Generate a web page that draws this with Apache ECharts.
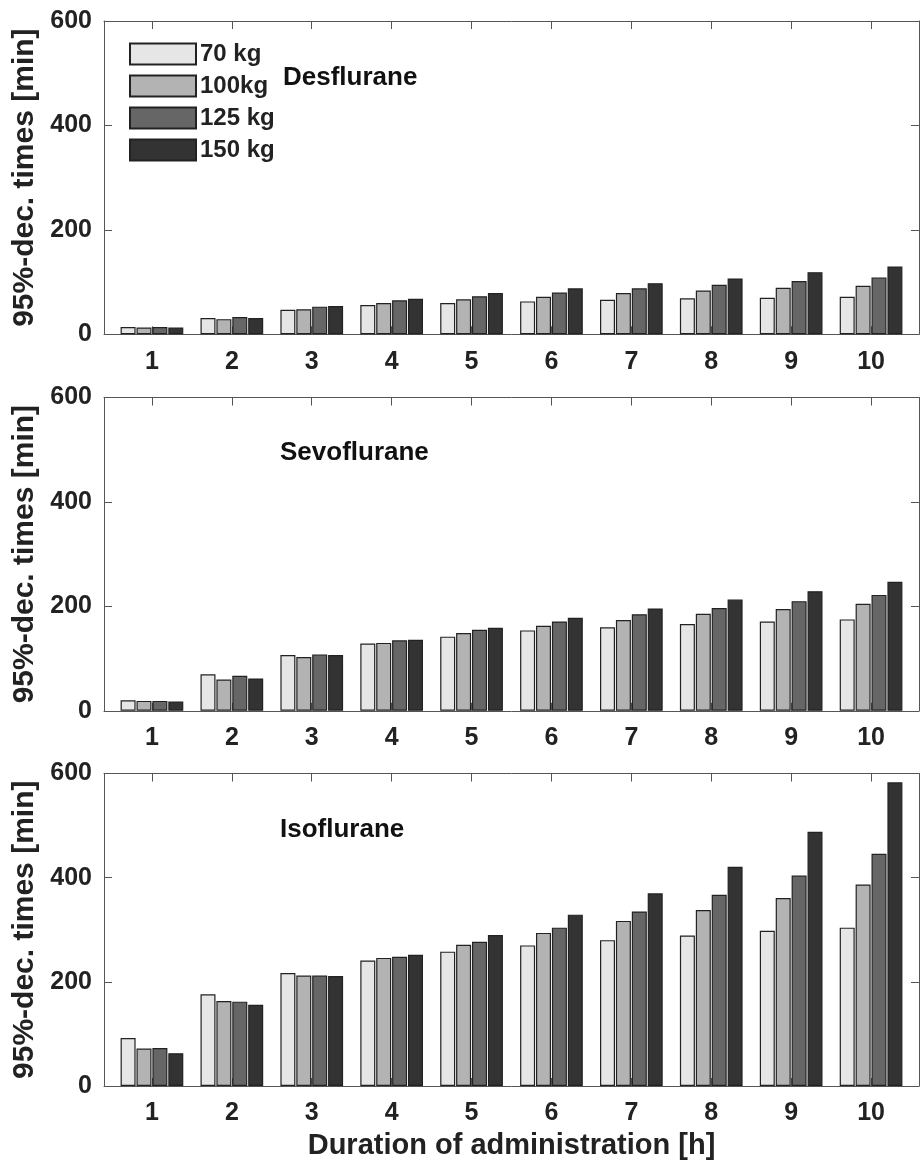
<!DOCTYPE html>
<html>
<head>
<meta charset="utf-8">
<script src="https://cdn.jsdelivr.net/npm/echarts@6/dist/echarts.min.js"></script>
<style>
html,body{margin:0;padding:0;background:#fff;}
#chart{width:921px;height:1161px;}
</style>
</head>
<body>
<div id="chart"></div>
<script>
// Data
const durations = [1,2,3,4,5,6,7,8,9,10];
const weights = ['70 kg','100kg','125 kg','150 kg'];
const panelNames = ['Desflurane','Sevoflurane','Isoflurane'];
const xTicks = [1,2,3,4,5,6,7,8,9,10];
const yTicks = [0,200,400,600];

// Desflurane
const des70  = [14,31,47,56,60,63,66,69,70,72];
const des100 = [13,29,48,60,67,72,79,84,89,93];
const des125 = [14,33,53,65,73,80,88,95,102,109];
const des150 = [13,31,54,68,79,88,98,107,119,130];
// Sevoflurane
const sev70  = [20,70,107,129,142,154,160,166,171,175];
const sev100 = [19,60,103,130,149,163,174,186,195,205];
const sev125 = [19,67,108,135,155,171,185,197,210,222];
const sev150 = [18,62,107,136,159,178,196,213,229,247];
// Isoflurane
const iso70  = [92,176,217,241,258,270,280,289,298,304];
const iso100 = [72,163,212,246,271,294,317,338,361,387];
const iso125 = [73,162,212,248,277,304,335,367,404,446];
const iso150 = [63,156,211,252,290,329,370,421,488,583];

const panelData = [
  [des70, des100, des125, des150],
  [sev70, sev100, sev125, sev150],
  [iso70, iso100, iso125, iso150]
];
const colors = ['#e6e6e6','#b3b3b3','#666666','#333333'];

const gridTops = [21, 397.5, 773.5];
const gridH = 313.3;
const axisColor = '#555';
const textColor = '#222';
const fontFam = '"Liberation Sans", Arial, sans-serif';

const grids = [], xAxes = [], yAxes = [], series = [], titles = [];
gridTops.forEach((t, p) => {
  grids.push({left:104, right:2, top:t, height:gridH, containLabel:false});
  xAxes.push({
    type:'value', gridIndex:p, min:0.4, max:10.6, position:'bottom',
    axisLine:{show:true, onZero:false, lineStyle:{color:axisColor, width:1}},
    axisTick:{show:true, inside:true, length:8, customValues:xTicks, lineStyle:{color:axisColor}},
    axisLabel:{show:true, customValues:xTicks, margin:15, fontSize:25, fontWeight:'bold', color:textColor, fontFamily:fontFam},
    splitLine:{show:false},
    name: p === 2 ? 'Duration of administration [h]' : '',
    nameLocation:'middle', nameGap:45,
    nameTextStyle:{fontSize:29, fontWeight:'bold', color:textColor, fontFamily:fontFam}
  });
  xAxes.push({
    type:'value', gridIndex:p, min:0.4, max:10.6, position:'top',
    axisLine:{show:true, onZero:false, lineStyle:{color:axisColor, width:1}},
    axisTick:{show:true, inside:true, length:8, customValues:xTicks, lineStyle:{color:axisColor}},
    axisLabel:{show:false},
    splitLine:{show:false}
  });
  yAxes.push({
    type:'value', gridIndex:p, min:0, max:600, interval:200, position:'left',
    axisLine:{show:true, lineStyle:{color:axisColor, width:1}},
    axisTick:{show:true, inside:true, length:8, lineStyle:{color:axisColor}},
    axisLabel:{show:true, margin:12, fontSize:25, fontWeight:'bold', color:textColor, fontFamily:fontFam},
    splitLine:{show:false},
    name:'95%-dec. times [min]', nameLocation:'middle', nameGap:61, nameRotate:90,
    nameTextStyle:{fontSize:30, fontWeight:'bold', color:textColor, fontFamily:fontFam}
  });
  yAxes.push({
    type:'value', gridIndex:p, min:0, max:600, interval:200, position:'right',
    axisLine:{show:true, lineStyle:{color:axisColor, width:1}},
    axisTick:{show:true, inside:true, length:8, lineStyle:{color:axisColor}},
    axisLabel:{show:false},
    splitLine:{show:false}
  });
  panelData[p].forEach((arr, s) => {
    series.push({
      type:'bar', name:weights[s],
      xAxisIndex:p*2, yAxisIndex:p*2,
      data: durations.map((d, i) => [d, arr[i]]),
      barWidth:15, barGap:'6%',
      itemStyle:{color:colors[s], borderColor:'#222', borderWidth:1.2},
      emphasis:{disabled:true},
      animation:false
    });
  });
});

const annot = [
  {text:'Desflurane', left:283, top:65},
  {text:'Sevoflurane', left:280, top:440},
  {text:'Isoflurane', left:280, top:817}
];
annot.forEach(a => titles.push({
  text:a.text, left:a.left, top:a.top, padding:0,
  textStyle:{fontSize:26, fontWeight:'bold', color:'#111', fontFamily:fontFam}
}));

const chart = echarts.init(document.getElementById('chart'), null, {renderer:'canvas'});
chart.setOption({
  backgroundColor:'#fff',
  animation:false,
  title:titles,
  legend:{
    data:weights, orient:'vertical', left:129, top:42,
    icon:'rect', itemWidth:66, itemHeight:21, itemGap:8, padding:0,
    textStyle:{fontSize:24, fontWeight:'bold', color:textColor, fontFamily:fontFam, lineHeight:21, padding:[0,0,0,-1]},
    selectedMode:false
  },
  grid:grids, xAxis:xAxes, yAxis:yAxes, series:series
});
</script>
</body>
</html>
